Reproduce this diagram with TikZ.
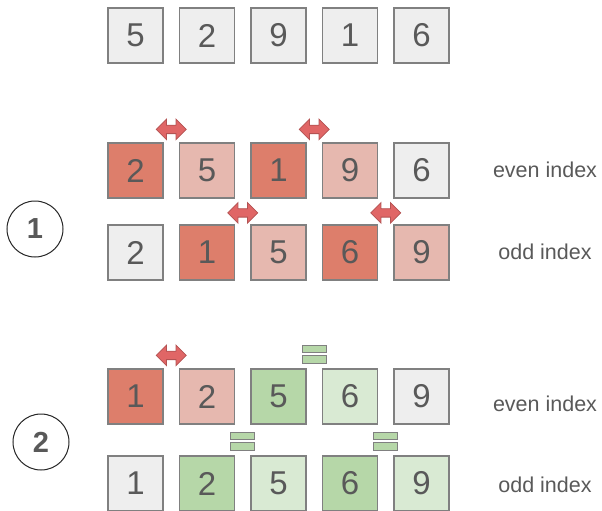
\documentclass[tikz,border=0pt]{standalone}
\usepackage{fontspec}
\setmainfont{Liberation Sans}
\usetikzlibrary{shapes.arrows,calc,positioning}
\definecolor{frame}{RGB}{128,128,128}
\definecolor{txt}{RGB}{89,89,89}
\definecolor{plain}{RGB}{238,238,238}
\definecolor{rust}{RGB}{221,126,107}
\definecolor{blush}{RGB}{230,184,175}
\definecolor{moss}{RGB}{182,215,168}
\definecolor{mint}{RGB}{217,234,211}
\definecolor{coral}{RGB}{224,102,102}
\tikzset{
  cell/.style={draw=frame,fill=#1,line width=1.2pt,minimum size=55pt,inner sep=0pt,
    font=\fontsize{33}{33}\selectfont,text=txt},
  cell/.default=plain,
  swap/.style={double arrow,draw=coral!80!black,fill=coral,line width=0.8pt,inner sep=3.8pt,
    double arrow head extend=6pt,minimum height=30pt,yshift=13pt},
  eqbar/.style={draw=frame,fill=moss,line width=1pt,minimum width=24pt,minimum height=7.5pt,
    inner sep=0pt,yshift=#1},
  stagemark/.style={circle,draw=black!85,line width=1pt,minimum size=56pt,inner sep=0pt,
    font=\fontsize{29}{29}\selectfont\bfseries,text=txt},
  rowlabel/.style={font=\fontsize{21.5}{21.5}\selectfont,text=txt},
}

\begin{document}
\begin{tikzpicture}[x=1pt,y=-1pt]
  \useasboundingbox (0,0) rectangle (602,511);
  % the rows of cells
  \foreach \r/\y/\vals in {0/35.5/{5/plain,2/plain,9/plain,1/plain,6/plain},
      1/170.5/{2/rust,5/blush,1/rust,9/blush,6/plain},
      2/252.5/{2/plain,1/rust,5/blush,6/rust,9/blush},
      3/396.5/{1/rust,2/blush,5/moss,6/mint,9/plain},
      4/483.5/{1/plain,2/moss,5/mint,6/moss,9/mint}}{
    \foreach \v/\c [count=\i] in \vals
      \node[cell=\c] (r\r c\i) at (64+71.5*\i,\y) {\v};
  }
  % swaps
  \node[swap] (s1a) at ($(r1c1.north east)!.5!(r1c2.north west)$) {};
  \node[swap] (s1b) at ($(r1c3.north east)!.5!(r1c4.north west)$) {};
  \node[swap,yshift=-1.5pt] (s2a) at ($(r2c2.north east)!.5!(r2c3.north west)$) {};
  \node[swap,yshift=-1.5pt] (s2b) at ($(r2c4.north east)!.5!(r2c5.north west)$) {};
  \node[swap] (s3a) at ($(r3c1.north east)!.5!(r3c2.north west)$) {};
  % equal pairs
  \foreach \r/\a/\b [count=\k] in {3/3/4,4/2/3,4/4/5}{
    \coordinate (m\k) at ($(r\r c\a.north east)!.5!(r\r c\b.north west)$);
    \node[eqbar=19.5pt] (e\k a) at (m\k) {};
    \node[eqbar=9pt] (e\k b) at (m\k) {};
  }
  % stages
  \node[stagemark] (st1) at (35,229) {1};
  \node[stagemark] (st2) at (41,442) {2};
  % labels
  \node[rowlabel] (lab1) at (545,170) {even index};
  \node[rowlabel] (lab2) at (545,252) {odd index};
  \node[rowlabel] (lab3) at (545,404) {even index};
  \node[rowlabel] (lab4) at (545,485) {odd index};
\end{tikzpicture}
\end{document}
